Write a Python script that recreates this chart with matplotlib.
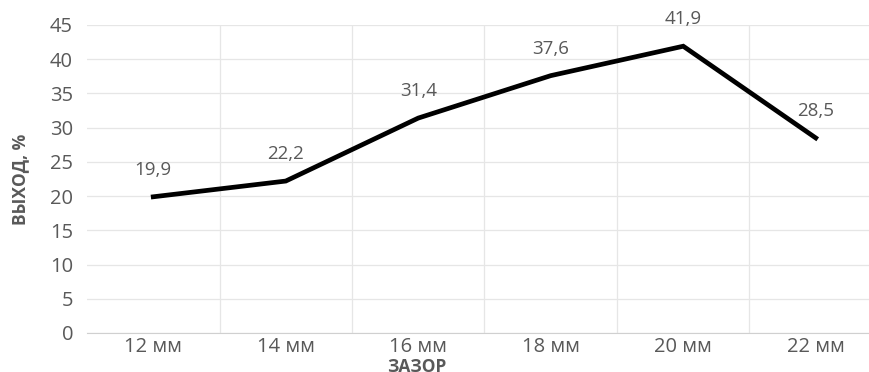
import matplotlib.pyplot as plt

categories = ["12 мм", "14 мм", "16 мм", "18 мм", "20 мм", "22 мм"]
values = [19.9, 22.2, 31.4, 37.6, 41.9, 28.5]
labels = ["19,9", "22,2", "31,4", "37,6", "41,9", "28,5"]

plt.rcParams["font.family"] = ["Open Sans", "DejaVu Sans"]
text_color = "#595959"

fig = plt.figure(figsize=(8.7, 3.72), dpi=100)
# plot area runs past the right edge of the image, as in the reference
ax = fig.add_axes([87 / 870, 1 - 333 / 372, 795 / 870, 308 / 372])

x = list(range(len(categories)))
ax.plot(x, values, color="black", linewidth=3.4, solid_joinstyle="miter")
for xi, v, lab in zip(x, values, labels):
    ax.annotate(lab, (xi, v), xytext=(0, 13), textcoords="offset points",
                ha="center", va="bottom", fontsize=13.5, color=text_color)

ax.set_xlim(-0.5, len(categories) - 0.5)
ax.set_ylim(0, 45)
ax.set_yticks(range(0, 46, 5))
ax.set_xticks(x)
ax.set_xticklabels(categories)
ax.set_xticks([i + 0.5 for i in x[:-1]], minor=True)

ax.grid(axis="y", color="#e6e6e6", linewidth=0.9)
ax.grid(axis="x", which="minor", color="#e6e6e6", linewidth=0.9)
ax.set_axisbelow(True)
for s in ["top", "right", "left"]:
    ax.spines[s].set_visible(False)
ax.spines["bottom"].set_color("#d0d0d0")
ax.tick_params(which="both", length=0, labelsize=14.5, labelcolor=text_color)
ax.tick_params(axis="y", pad=10)
ax.tick_params(axis="x", pad=3)

ax.set_ylabel("ВЫХОД, %", fontsize=12.5, fontweight="bold", color=text_color)
ax.yaxis.set_label_coords(-(87 - 29) / 795, 0.5)
ax.set_xlabel("ЗАЗОР", fontsize=12.5, fontweight="bold", color=text_color)
ax.xaxis.set_label_coords((417 - 87) / 795, -(358 - 333) / 308)
ax.xaxis.label.set_va("top")

fig.savefig("out.png", dpi=100)
